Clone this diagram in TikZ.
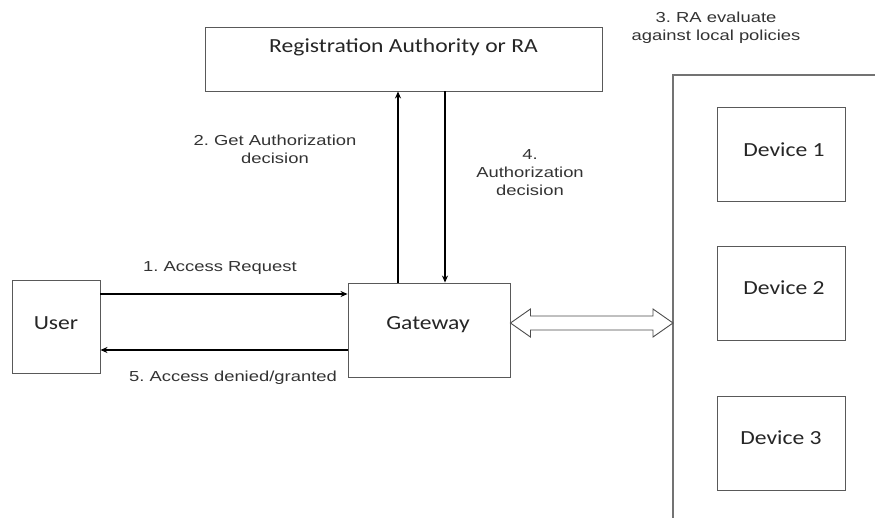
\documentclass[tikz,border=0pt]{standalone}
\usepackage{fontspec}
\usepackage{graphicx}
\setmainfont{Liberation Sans}
\newfontfamily\boxfont{Carlito}
\usetikzlibrary{arrows.meta,shadows,calc}
\frenchspacing
\newcommand{\sxl}[1]{\scalebox{1.27}[1]{#1}}
\newcommand{\sxb}[1]{\scalebox{1.18}[1]{#1}}
\begin{document}
\begin{tikzpicture}[x=1pt,y=-1pt,
  box/.style={draw=black!65,line width=0.9pt,fill=white,inner sep=0pt,
    drop shadow={shadow xshift=1pt,shadow yshift=-1pt,opacity=0.35}},
  boxtext/.style={font=\boxfont\fontsize{20}{22}\selectfont,text=black!85},
  lbl/.style={font=\fontsize{14.5}{18}\selectfont,text=black!80,align=center},
  conn/.style={line width=1.6pt,-{Stealth[length=7pt,width=6pt]}}]
\useasboundingbox (0,0) rectangle (875,517);
% boxes
\node[box,minimum width=397pt,minimum height=64pt] (ra) at (403.5,59) {};
\node[boxtext] (rat) at (403.5,47) {\sxb{Registration Authority or RA}};
\node[box,minimum width=88pt,minimum height=93pt] (user) at (56,326.5) {};
\node[boxtext] (usert) at (56,323) {\sxb{User}};
\node[box,minimum width=162pt,minimum height=94pt] (gw) at (429,330) {};
\node[boxtext] (gwt) at (428,325) {\sxb{Gateway}};
% container
\coordinate (ctl) at (673,75);
\coordinate (ctr) at (876,75);
\coordinate (cbl) at (673,518);
\draw[black!55,line width=1.2pt] (ctr) -- (ctl) -- (cbl);
\node[box,minimum width=128pt,minimum height=94pt] (d1) at (781,154) {};
\node[boxtext] (d1t) at (784,150) {\sxb{Device 1}};
\node[box,minimum width=128pt,minimum height=94pt] (d2) at (781,293) {};
\node[boxtext] (d2t) at (784,288) {\sxb{Device 2}};
\node[box,minimum width=128pt,minimum height=94pt] (d3) at (781,443) {};
\node[boxtext] (d3t) at (781,438) {\sxb{Device 3}};
% connectors
\draw[conn] (gw.north west -| 398,0) -- (ra.south west -| 398,0);
\draw[conn] (ra.south west -| 445,0) -- (gw.north west -| 445,0);
\draw[conn] (user.east |- 0,294) -- (gw.west |- 0,294);
\draw[conn] (gw.west |- 0,350) -- (user.east |- 0,350);
% double arrow
\coordinate (da1) at (gw.east |- 0,323);
\coordinate (da2) at (673,323);
\draw[black!70,line width=0.9pt,fill=white,line join=miter]
  (da1) -- ($(da1)+(20,-14)$) -- ($(da1)+(20,-7)$) -- ($(da2)+(-20,-7)$) -- ($(da2)+(-20,-14)$)
  -- (da2) -- ($(da2)+(-20,14)$) -- ($(da2)+(-20,7)$) -- ($(da1)+(20,7)$) -- ($(da1)+(20,14)$) -- cycle;
% labels
\node[lbl] (l1) at (220,268) {\sxl{1. Access Request}};
\node[lbl] (l5) at (233,378) {\sxl{5. Access denied/granted}};
\node[lbl] (l2) at (275,149) {\sxl{2. Get Authorization}\\\sxl{decision}};
\node[lbl] (l4) at (530,173) {\sxl{4.}\\\sxl{Authorization}\\\sxl{decision}};
\node[lbl] (l3) at (716,28) {\sxl{3. RA evaluate}\\\sxl{against local policies}};
\end{tikzpicture}
\end{document}
